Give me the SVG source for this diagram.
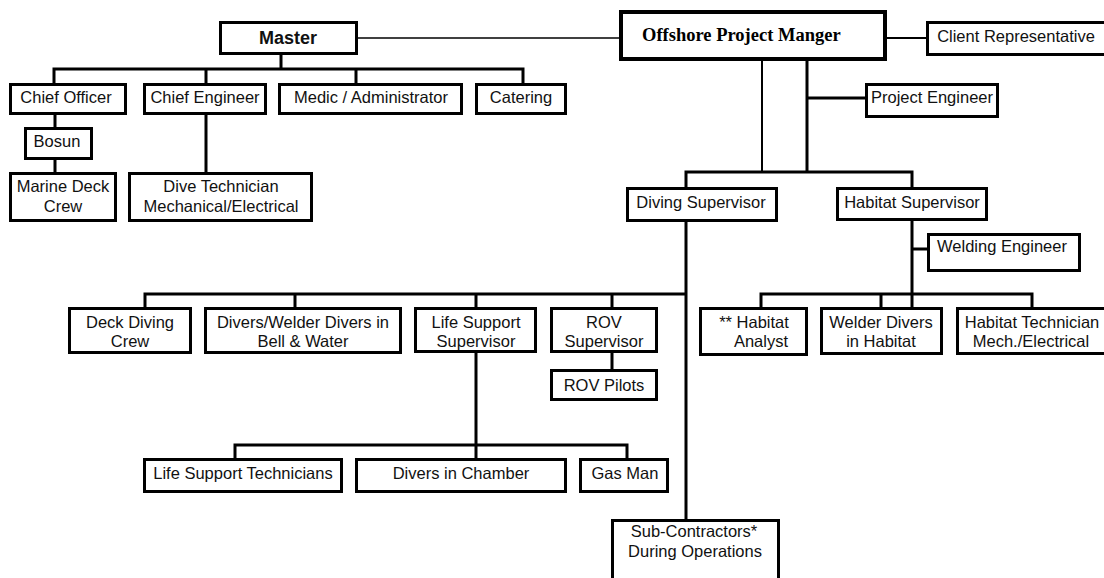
<svg xmlns="http://www.w3.org/2000/svg" width="1104" height="578" viewBox="0 0 1104 578">
<style>
.b{fill:#fff;stroke:#000;stroke-width:3}
.b4{fill:#fff;stroke:#000;stroke-width:4}
.t{font-family:"Liberation Sans",Arial,sans-serif;font-size:16.5px;fill:#111;text-anchor:middle}
.c{fill:none;stroke:#000;stroke-width:3}
</style>
<rect width="1104" height="578" fill="#fff"/>
<g id="connectors">
<line x1="358" y1="38" x2="619" y2="38" stroke="#000" stroke-width="1.5"/>
<line x1="887" y1="38" x2="926" y2="38" stroke="#000" stroke-width="2"/>
<path class="c" d="M281 55V69M54 84V69H523V84M206 69V84M356 69V84"/>
<path class="c" d="M55 115V128M55 160V173M206 115V173"/>
<line x1="762" y1="61" x2="762" y2="172" stroke="#000" stroke-width="2"/>
<path class="c" d="M807 61V172M807 98H866M686 188V172H912V188"/>
<path class="c" d="M686 222V520M145 308V294H686M295 294V308M476 294V308M612 294V308M612 353V370"/>
<path class="c" d="M476 353V445M235 459V445H627V459M476 445V459"/>
<path class="c" d="M912 221V308M912 249H928M761 308V294H1032V308M881 294V308"/>
</g>
<g id="master"><rect class="b" x="220.5" y="22.5" width="136" height="31"/><text class="t" x="288" y="44" style="font-size:18px;font-weight:bold">Master</text></g>
<g id="opm"><rect class="b4" x="621" y="12" width="264" height="47"/><text x="642" y="41" style="font-family:'Liberation Serif','Times New Roman',serif;font-weight:bold;font-size:18.5px;fill:#000">Offshore Project Manger</text></g>
<g id="client"><rect class="b" x="927.5" y="22.5" width="190" height="32"/><text class="t" x="1016" y="42">Client Representative</text></g>
<g id="chief-officer"><rect class="b" x="10.5" y="84.5" width="115" height="29"/><text class="t" x="66" y="103">Chief Officer</text></g>
<g id="chief-engineer"><rect class="b" x="144.5" y="84.5" width="121" height="29"/><text class="t" x="205" y="103">Chief Engineer</text></g>
<g id="medic"><rect class="b" x="279.5" y="84.5" width="182" height="29"/><text class="t" x="371" y="103">Medic / Administrator</text></g>
<g id="catering"><rect class="b" x="476.5" y="84.5" width="89" height="29"/><text class="t" x="521" y="103">Catering</text></g>
<g id="bosun"><rect class="b" x="25.5" y="128.5" width="66" height="30"/><text class="t" x="57" y="147">Bosun</text></g>
<g id="marine-deck-crew"><rect class="b" x="10.5" y="173.5" width="105" height="47"/><text class="t" x="63" y="192">Marine Deck</text><text class="t" x="63" y="212">Crew</text></g>
<g id="dive-technician"><rect class="b" x="129.5" y="173.5" width="182" height="47"/><text class="t" x="221" y="192">Dive Technician</text><text class="t" x="221" y="212">Mechanical/Electrical</text></g>
<g id="project-engineer"><rect class="b" x="866.5" y="84.5" width="131" height="32"/><text class="t" x="932" y="103">Project Engineer</text></g>
<g id="diving-supervisor"><rect class="b" x="627.5" y="188.5" width="149" height="32"/><text class="t" x="701" y="208">Diving Supervisor</text></g>
<g id="habitat-supervisor"><rect class="b" x="837.5" y="188.5" width="149" height="31"/><text class="t" x="912" y="208">Habitat Supervisor</text></g>
<g id="welding-engineer"><rect class="b" x="928.5" y="234.5" width="151" height="36"/><text class="t" x="1002" y="252">Welding Engineer</text></g>
<g id="deck-diving-crew"><rect class="b" x="69.5" y="308.5" width="121" height="44"/><text class="t" x="130" y="328">Deck Diving</text><text class="t" x="130" y="347">Crew</text></g>
<g id="divers-welder"><rect class="b" x="205.5" y="308.5" width="195" height="44"/><text class="t" x="303" y="328">Divers/Welder Divers in</text><text class="t" x="303" y="347">Bell &amp; Water</text></g>
<g id="life-support-supervisor"><rect class="b" x="415.5" y="308.5" width="120" height="43"/><text class="t" x="476" y="328">Life Support</text><text class="t" x="476" y="347">Supervisor</text></g>
<g id="rov-supervisor"><rect class="b" x="551.5" y="308.5" width="105" height="43"/><text class="t" x="604" y="328">ROV</text><text class="t" x="604" y="347">Supervisor</text></g>
<g id="rov-pilots"><rect class="b" x="551.5" y="370.5" width="105" height="29"/><text class="t" x="604" y="391">ROV Pilots</text></g>
<g id="habitat-analyst"><rect class="b" x="700.5" y="308.5" width="106" height="46"/><text class="t" x="754" y="328">** Habitat</text><text class="t" x="761" y="347">Analyst</text></g>
<g id="welder-divers-habitat"><rect class="b" x="821.5" y="308.5" width="120" height="45"/><text class="t" x="881" y="328">Welder Divers</text><text class="t" x="881" y="347">in Habitat</text></g>
<g id="habitat-technician"><rect class="b" x="957.5" y="308.5" width="160" height="45"/><text class="t" x="1032" y="328">Habitat Technician</text><text class="t" x="1031" y="347">Mech./Electrical</text></g>
<g id="life-support-technicians"><rect class="b" x="144.5" y="459.5" width="197" height="32"/><text class="t" x="243" y="479">Life Support Technicians</text></g>
<g id="divers-in-chamber"><rect class="b" x="356.5" y="459.5" width="209" height="32"/><text class="t" x="461" y="479">Divers in Chamber</text></g>
<g id="gas-man"><rect class="b" x="580.5" y="459.5" width="87" height="32"/><text class="t" x="625" y="479">Gas Man</text></g>
<g id="sub-contractors"><rect class="b" x="612.5" y="520.5" width="166" height="70"/><text class="t" x="694" y="537">Sub-Contractors*</text><text class="t" x="695" y="557">During Operations</text></g>
</svg>
